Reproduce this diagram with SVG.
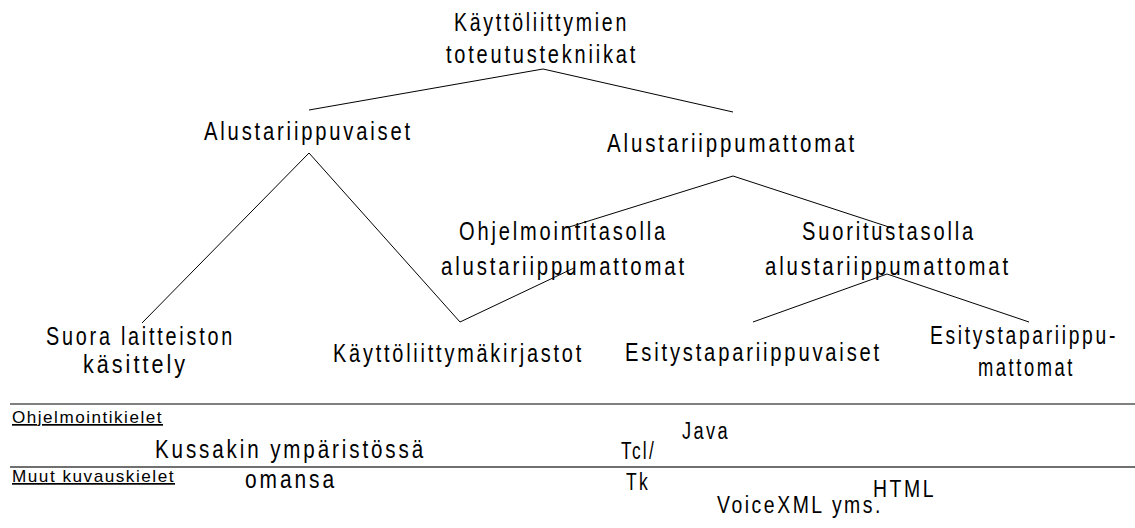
<svg xmlns="http://www.w3.org/2000/svg" width="1135" height="528" viewBox="0 0 1135 528">
  <style>
    text { font-family: "Liberation Sans", Arial, sans-serif; fill: #000; }
    /* condensed glyphs with open tracking: widen by letter-spacing, then squeeze to textLength */
    .n { font-size: 25px; letter-spacing: 3.5px; }
    .m { font-size: 23px; letter-spacing: 3px; }
    .lbl { font-size: 17px; letter-spacing: 1.5px; text-decoration: underline; text-decoration-skip-ink: none; }
    .edge { stroke: #000; stroke-width: 1; fill: none; }
    .rule1 { stroke: #808080; stroke-width: 2; }
    .rule2 { stroke: #404040; stroke-width: 1.5; }
  </style>
  <rect width="1135" height="528" fill="#fff"/>

  <!-- tree edges -->
  <g id="connectors">
    <line class="edge" x1="543" y1="69" x2="309" y2="110"/>
    <line class="edge" x1="543" y1="69" x2="733" y2="112"/>
    <line class="edge" x1="309" y1="153" x2="142" y2="323"/>
    <line class="edge" x1="309" y1="153" x2="460" y2="322"/>
    <line class="edge" x1="460" y1="322" x2="574" y2="268"/>
    <line class="edge" x1="733" y1="176" x2="566" y2="228"/>
    <line class="edge" x1="733" y1="176" x2="892" y2="228"/>
    <line class="edge" x1="887" y1="274" x2="753" y2="322"/>
    <line class="edge" x1="887" y1="274" x2="1029" y2="322"/>
  </g>

  <g id="root">
    <text class="n" x="454" y="31" textLength="175" lengthAdjust="spacingAndGlyphs">Käyttöliittymien</text>
    <text class="n" x="446" y="63" textLength="192" lengthAdjust="spacingAndGlyphs">toteutustekniikat</text>
  </g>
  <g id="alustariippuvaiset">
    <text class="n" x="204" y="140" textLength="209" lengthAdjust="spacingAndGlyphs">Alustariippuvaiset</text>
  </g>
  <g id="alustariippumattomat">
    <text class="n" x="607" y="152" textLength="250" lengthAdjust="spacingAndGlyphs">Alustariippumattomat</text>
  </g>
  <g id="ohjelmointitasolla">
    <text class="n" x="459" y="240" textLength="209" lengthAdjust="spacingAndGlyphs">Ohjelmointitasolla</text>
    <text class="n" x="441" y="275" textLength="246" lengthAdjust="spacingAndGlyphs">alustariippumattomat</text>
  </g>
  <g id="suoritustasolla">
    <text class="n" x="802" y="240" textLength="174" lengthAdjust="spacingAndGlyphs">Suoritustasolla</text>
    <text class="n" x="765" y="275" textLength="246" lengthAdjust="spacingAndGlyphs">alustariippumattomat</text>
  </g>
  <g id="suora">
    <text class="n" x="46" y="345" textLength="189" lengthAdjust="spacingAndGlyphs">Suora laitteiston</text>
    <text class="n" x="83" y="373" textLength="105" lengthAdjust="spacingAndGlyphs">käsittely</text>
  </g>
  <g id="kirjastot">
    <text class="n" x="333" y="362" textLength="251" lengthAdjust="spacingAndGlyphs">Käyttöliittymäkirjastot</text>
  </g>
  <g id="esitystapariippuvaiset">
    <text class="n" x="625" y="361" textLength="257" lengthAdjust="spacingAndGlyphs">Esitystapariippuvaiset</text>
  </g>
  <g id="esitystapariippumattomat">
    <text class="n" x="930" y="344" textLength="188" lengthAdjust="spacingAndGlyphs">Esitystapariippu-</text>
    <text class="n" x="978" y="376" textLength="97" lengthAdjust="spacingAndGlyphs">mattomat</text>
  </g>

  <!-- language table -->
  <g id="table">
    <line class="rule1" x1="10" y1="404" x2="1135" y2="404"/>
    <line class="rule2" x1="10" y1="467" x2="1135" y2="467"/>
    <text class="lbl" x="12" y="423" textLength="151" lengthAdjust="spacingAndGlyphs">Ohjelmointikielet</text>
    <text class="lbl" x="12" y="482" textLength="163" lengthAdjust="spacingAndGlyphs">Muut kuvauskielet</text>
    <text class="n" x="155" y="458" textLength="271" lengthAdjust="spacingAndGlyphs">Kussakin ympäristössä</text>
    <text class="n" x="245" y="488" textLength="92" lengthAdjust="spacingAndGlyphs">omansa</text>
    <text class="m" x="682" y="439" textLength="48" lengthAdjust="spacingAndGlyphs">Java</text>
    <text class="m" x="621" y="459" textLength="35" lengthAdjust="spacingAndGlyphs">Tcl/</text>
    <text class="m" x="626" y="490" textLength="24" lengthAdjust="spacingAndGlyphs">Tk</text>
    <text class="m" x="873" y="497" textLength="63" lengthAdjust="spacingAndGlyphs">HTML</text>
    <text class="m" x="717" y="513" textLength="166" lengthAdjust="spacingAndGlyphs">VoiceXML yms.</text>
  </g>
</svg>
